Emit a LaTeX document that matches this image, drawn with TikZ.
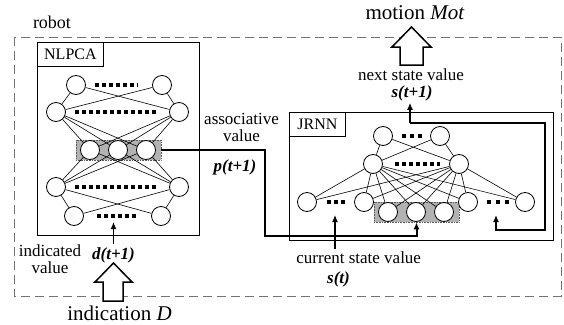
\documentclass[tikz,border=0pt]{standalone}
\usepackage{fontspec}
\setmainfont{Liberation Serif}
\usetikzlibrary{arrows.meta, positioning, calc}

\begin{document}
\begin{tikzpicture}[x=1pt, y=-1pt,
    unit/.style={circle, draw, fill=white, line width=0.8pt, minimum size=19pt, inner sep=0pt},
    link/.style={line width=0.6pt},
    tag/.style={draw, line width=0.8pt, anchor=north west, inner sep=0pt,
                font=\fontsize{16}{17}\selectfont},
    txt/.style={font=\fontsize{17}{17.5}\selectfont, align=center, inner sep=0pt},
    big/.style={font=\fontsize{21}{23}\selectfont, inner sep=0pt},
    val/.style={font=\fontsize{17}{18}\selectfont\bfseries\itshape, inner sep=0pt},
    dots/.style={line width=3.6pt, dash pattern=on 3.5pt off 3.5pt},
    hid/.style={draw=black!65, densely dotted, fill=black!30, line width=0.6pt, inner sep=0pt},
    arr/.style={-{Latex[length=7pt, width=6pt]}, line width=1.1pt},
    route/.style={-{Latex[length=7pt, width=6pt]}, line width=2pt},
    hollow/.style={draw, fill=white, line width=1.5pt, line join=miter}
  ]
  \useasboundingbox (0,0) rectangle (564,324);

  % robot frame and the two networks
  \draw[black!55, line width=1pt, dash pattern=on 9pt off 5pt] (14,37) rectangle (561,296);
  \node[txt, font=\fontsize{18}{19}\selectfont] (robot) at (52,22) {robot};
  \draw[line width=0.8pt] (37,42) rectangle (199,235);
  \node[tag, minimum width=66pt, minimum height=24pt] (nlpca) at (37,42) {NLPCA};
  \draw[line width=0.8pt] (289,112) rectangle (553,240);
  \node[tag, minimum width=56pt, minimum height=24pt] (jrnn) at (289,112) {JRNN};

  % NLPCA layers
  \node[hid, minimum width=85pt, minimum height=20pt] (nlshade) at (118.5,150) {};
  \node[unit] (n1a) at (76,85) {};   \node[unit] (n1b) at (162,85) {};
  \node[unit] (n2a) at (56,112) {};  \node[unit] (n2b) at (179,112) {};
  \node[unit] (n3a) at (90,150) {};  \node[unit] (n3b) at (118,150) {};
  \node[unit] (n3c) at (146,150) {};
  \node[unit] (n4a) at (56,187) {};  \node[unit] (n4b) at (179,187) {};
  \node[unit] (n5a) at (74,216) {};  \node[unit] (n5b) at (161,216) {};
  \foreach \u in {n1a,n1b} \foreach \v in {n2a,n2b} \draw[link] (\u) -- (\v);
  \foreach \u in {n2a,n2b} \foreach \v in {n3a,n3b,n3c} \draw[link] (\u) -- (\v);
  \foreach \u in {n3a,n3b,n3c} \foreach \v in {n4a,n4b} \draw[link] (\u) -- (\v);
  \foreach \u in {n4a,n4b} \foreach \v in {n5a,n5b} \draw[link] (\u) -- (\v);
  \draw[dots] (95,85) -- (138,85);
  \draw[dots] (75,112) -- (157,112);
  \draw[dots] (75,187) -- (157,187);
  \draw[dots] (97,216) -- (138,216);

  % JRNN layers
  \node[hid, minimum width=85pt, minimum height=20pt] (jshade) at (416.5,212) {};
  \node[unit] (j1a) at (383,136) {}; \node[unit] (j1b) at (440,136) {};
  \node[unit] (j2a) at (373,164) {}; \node[unit] (j2b) at (459,164) {};
  \node[unit] (ja) at (307,202) {};  \node[unit] (jb) at (364,202) {};
  \node[unit] (jc) at (388,212) {};  \node[unit] (jd) at (416,212) {};
  \node[unit] (je) at (444,212) {};  \node[unit] (jf) at (468,202) {};
  \node[unit] (jg) at (525,202) {};
  \foreach \u in {j1a,j1b} \foreach \v in {j2a,j2b} \draw[link] (\u) -- (\v);
  \foreach \u in {j2a,j2b} \foreach \v in {ja,jb,jc,jd,je,jf,jg} \draw[link] (\u) -- (\v);
  \draw[dots, dash pattern=on 4pt off 4pt] (402,136) -- (422,136);
  \draw[dots] (395,164) -- (440,164);
  \draw[dots, dash pattern=on 3.6pt off 3.6pt] (327,202) -- (345,202);
  \draw[dots, dash pattern=on 4pt off 5pt] (487,202) -- (509,202);

  % labels
  \node[txt] (assoc) at (241.5,127.5) {associative\\value};
  \node[val] (pval) at (235,167) {p(t+1)};
  \node[txt] (indic) at (50,259) {indicated\\value};
  \node[val, inner sep=3pt] (dval) at (113.5,255) {d(t+1)};
  \node[txt] (nextlbl) at (411,75) {next state value};
  \node[val, inner sep=2pt] (snext) at (412,93) {s(t+1)};
  \node[txt, inner sep=3pt] (cur) at (358.7,258) {current state value};
  \node[val] (st) at (338.5,279) {s(t)};
  \node[big] (motion) at (415,12.5) {motion \textit{Mot}};
  \node[big] (indication) at (119.5,313.5) {indication \textit{D}};

  % signal paths
  \coordinate (dtip) at (113.5,222);
  \coordinate (pbend) at (265,236);
  \coordinate (sout) at (410,123);
  \coordinate (fbend) at (545,230);
  \coordinate (stip) at (335,215);
  \coordinate (fbtip) at (496,215);
  \draw[arr] (dval) -- (dtip);
  \draw[route] (nlshade.east) -| (pbend) -| (jshade.south);
  \draw[arr] (cur.north -| stip) -- (stip);
  \draw[arr] (sout) -- (sout |- snext.south);
  \draw[route] (sout) -| (fbend) -| (fbtip);

  % in and out of the robot
  \draw[hollow] (103,301) -- (103,282) -- (95,282) -- (113.5,263) -- (132,282)
    -- (123,282) -- (123,301) -- cycle;
  \draw[hollow] (400,65) -- (400,47) -- (392,47) -- (411.5,27) -- (431,47)
    -- (423,47) -- (423,65) -- cycle;
\end{tikzpicture}
\end{document}
